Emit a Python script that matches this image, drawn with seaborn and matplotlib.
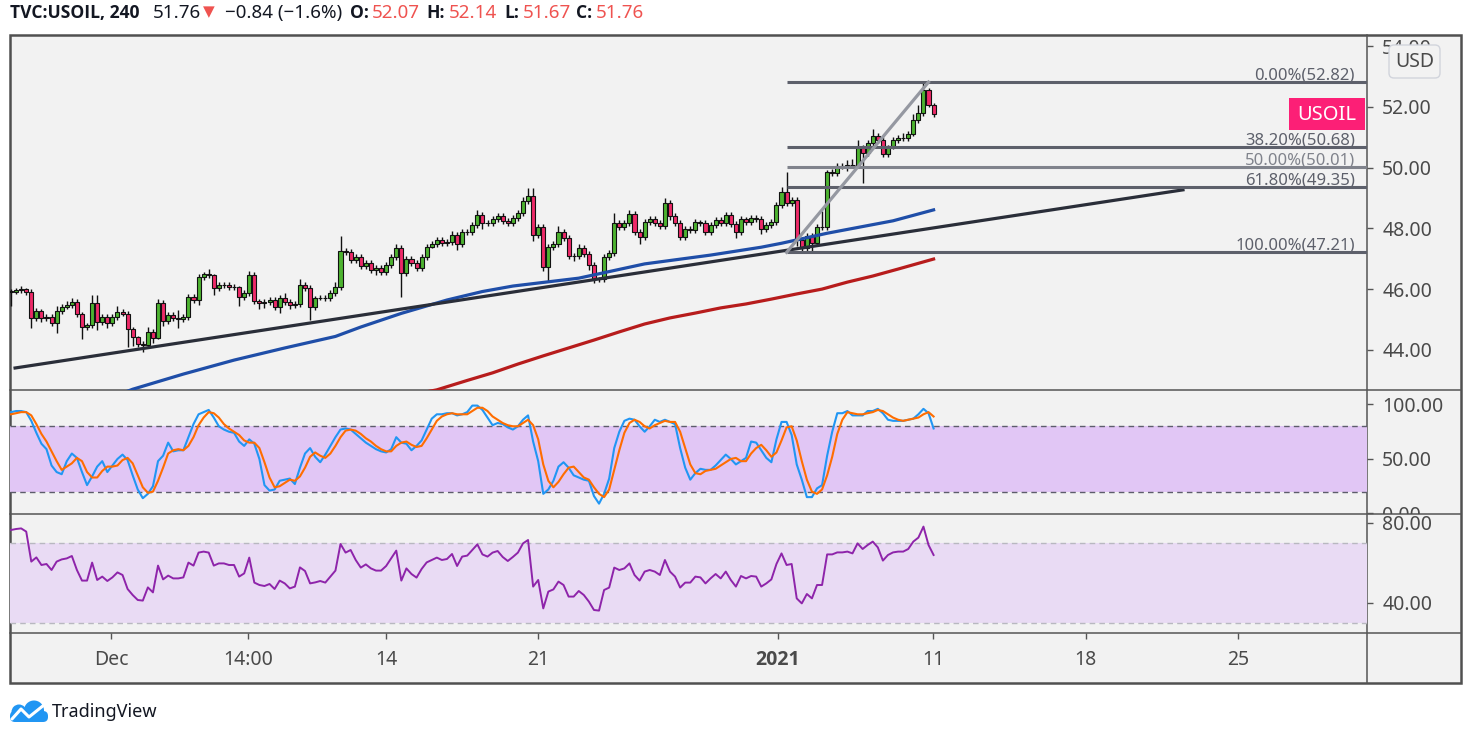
import numpy as np
import pandas as pd
import seaborn as sns
import matplotlib.pyplot as plt
from matplotlib import font_manager
from matplotlib.patches import Rectangle, FancyBboxPatch, Circle
from matplotlib.transforms import Bbox, TransformedBbox

plt.rcParams['font.family'] = ['Noto Sans', 'DejaVu Sans']

# ---- values (TVC:USOIL, 4h bars) ----
first_open = 45.95
closes = [
    45.90, 45.97, 46.00, 45.90, 45.05, 45.28, 45.05, 45.08, 44.88, 45.28,
    45.41, 45.48, 45.57, 45.18, 44.75, 44.82, 45.54, 44.92, 45.08, 44.88,
    45.08, 45.25, 45.18, 44.69, 44.42, 44.19, 44.16, 44.59, 44.39, 45.54,
    44.95, 45.15, 45.05, 45.03, 45.08, 45.74, 45.64, 46.40, 46.50, 46.46,
    46.04, 46.13, 46.12, 46.07, 46.06, 45.74, 45.87, 46.46, 45.61, 45.54,
    45.57, 45.64, 45.41, 45.71, 45.57, 45.48, 45.50, 46.13, 46.04, 45.41,
    45.71, 45.72, 45.70, 45.87, 46.07, 47.25, 47.22, 46.95, 47.05, 46.75,
    46.85, 46.63, 46.70, 46.56, 46.79, 47.06, 47.35, 46.53, 46.99, 46.86,
    46.70, 47.06, 47.39, 47.49, 47.62, 47.52, 47.55, 47.78, 47.49, 47.88,
    47.87, 48.11, 48.44, 48.18, 48.17, 48.31, 48.41, 48.24, 48.18, 48.34,
    48.51, 48.90, 49.07, 47.78, 48.05, 46.73, 47.39, 47.49, 47.88, 47.68,
    47.09, 47.10, 47.35, 47.16, 46.79, 46.33, 46.34, 47.06, 47.19, 48.18,
    48.05, 48.18, 48.47, 47.88, 47.72, 48.21, 48.31, 48.18, 48.08, 48.84,
    48.41, 48.18, 47.72, 47.98, 47.95, 48.21, 48.19, 47.88, 48.11, 48.28,
    48.18, 48.44, 48.14, 47.88, 48.31, 48.21, 48.34, 48.32, 47.98, 48.11,
    48.21, 48.77, 49.20, 48.84, 48.94, 47.62, 47.35, 47.75, 47.52, 48.05,
    48.04, 49.86, 49.83, 50.06, 50.05, 50.09, 50.10, 50.65, 50.48, 50.81,
    51.04, 50.91, 50.45, 50.71, 50.91, 50.98, 50.97, 51.11, 51.57, 51.80,
    52.56, 52.07, 51.76,
]
wick_up = [
    0.05, 0.08, 0.10, 0.05, 0.10, 0.10, 0.08, 0.10, 0.10, 0.15,
    0.10, 0.12, 0.15, 0.10, 0.08, 0.05, 0.26, 0.26, 0.10, 0.10,
    0.10, 0.20, 0.10, 0.10, 0.05, 0.05, 0.10, 0.15, 0.10, 0.13,
    0.10, 0.10, 0.10, 0.25, 0.10, 0.10, 0.10, 0.10, 0.05, 0.15,
    0.05, 0.10, 0.10, 0.10, 0.10, 0.05, 0.10, 0.15, 0.10, 0.05,
    0.10, 0.10, 0.10, 0.10, 0.15, 0.10, 0.10, 0.20, 0.10, 0.10,
    0.05, 0.10, 0.10, 0.10, 0.15, 0.50, 0.10, 0.10, 0.10, 0.10,
    0.10, 0.10, 0.10, 0.10, 0.10, 0.10, 0.15, 0.10, 0.10, 0.10,
    0.10, 0.10, 0.10, 0.10, 0.10, 0.10, 0.10, 0.15, 0.10, 0.10,
    0.10, 0.10, 0.15, 0.10, 0.10, 0.10, 0.10, 0.10, 0.10, 0.10,
    0.10, 0.15, 0.25, 0.26, 0.10, 0.10, 0.10, 0.10, 0.20, 0.10,
    0.10, 0.10, 0.15, 0.10, 0.10, 0.10, 0.05, 0.10, 0.10, 0.33,
    0.10, 0.10, 0.15, 0.10, 0.10, 0.10, 0.10, 0.10, 0.10, 0.16,
    0.10, 0.10, 0.10, 0.10, 0.10, 0.10, 0.08, 0.10, 0.10, 0.10,
    0.10, 0.10, 0.10, 0.10, 0.10, 0.08, 0.10, 0.10, 0.10, 0.10,
    0.10, 0.10, 0.15, 0.66, 0.10, 0.10, 0.10, 0.10, 0.10, 0.10,
    0.52, 0.05, 0.10, 0.10, 0.10, 0.15, 0.20, 0.25, 0.10, 0.10,
    0.25, 0.10, 0.10, 0.05, 0.10, 0.10, 0.15, 0.10, 0.20, 0.25,
    0.26, 0.07, 0.07,
]
wick_dn = [
    0.45, 0.05, 0.10, 0.08, 0.33, 0.10, 0.15, 0.10, 0.10, 0.33,
    0.10, 0.08, 0.10, 0.10, 0.40, 0.10, 0.10, 0.27, 0.10, 0.15,
    0.10, 0.10, 0.08, 0.60, 0.30, 0.10, 0.23, 0.10, 0.15, 0.05,
    0.15, 0.10, 0.10, 0.30, 0.10, 0.10, 0.10, 0.15, 0.10, 0.10,
    0.25, 0.10, 0.10, 0.10, 0.10, 0.30, 0.10, 0.10, 0.10, 0.20,
    0.15, 0.10, 0.10, 0.20, 0.10, 0.15, 0.10, 0.10, 0.10, 0.43,
    0.10, 0.08, 0.10, 0.10, 0.10, 0.10, 0.10, 0.10, 0.10, 0.10,
    0.10, 0.10, 0.15, 0.10, 0.10, 0.10, 0.10, 0.79, 0.10, 0.10,
    0.10, 0.10, 0.10, 0.05, 0.10, 0.10, 0.10, 0.10, 0.20, 0.10,
    0.10, 0.10, 0.10, 0.20, 0.10, 0.10, 0.10, 0.10, 0.10, 0.10,
    0.10, 0.10, 0.10, 0.18, 0.10, 0.15, 0.50, 0.10, 0.10, 0.10,
    0.10, 0.15, 0.10, 0.10, 0.15, 0.13, 0.10, 0.10, 0.10, 0.10,
    0.10, 0.10, 0.10, 0.10, 0.25, 0.10, 0.10, 0.10, 0.10, 0.10,
    0.15, 0.10, 0.10, 0.10, 0.10, 0.10, 0.10, 0.10, 0.10, 0.10,
    0.10, 0.10, 0.10, 0.20, 0.10, 0.10, 0.10, 0.10, 0.15, 0.10,
    0.10, 0.10, 0.10, 0.10, 0.10, 0.20, 0.14, 0.10, 0.30, 0.10,
    0.10, 0.10, 0.10, 0.10, 0.10, 0.15, 0.10, 0.10, 1.00, 0.10,
    0.10, 0.10, 0.10, 0.10, 0.10, 0.10, 0.10, 0.10, 0.05, 0.10,
    0.10, 0.08, 0.09,
]

blue_ma_bars = [19, 24, 34, 44, 54, 64, 69, 77, 86, 93, 99, 112, 125, 138, 148, 152, 161, 174, 182]
blue_ma = [42.38, 42.70, 43.20, 43.66, 44.06, 44.44, 44.75, 45.20, 45.64, 45.92, 46.10,
           46.36, 46.83, 47.12, 47.38, 47.51, 47.84, 48.25, 48.61]
red_ma_bars = [80, 84, 90, 95, 100, 105, 110, 115, 120, 125, 130, 135, 140, 145,
               150, 155, 160, 165, 170, 175, 182]
red_ma = [42.55, 42.68, 42.99, 43.24, 43.53, 43.80, 44.06, 44.32, 44.59, 44.85, 45.05,
          45.21, 45.38, 45.51, 45.67, 45.84, 46.00, 46.23, 46.43, 46.66, 46.99]

stoch_k = [
    93, 94, 94, 93, 85, 74, 64, 59, 44, 38, 36, 48, 55, 51, 38, 26, 34, 43, 48, 38,
    44, 50, 54, 49, 35, 22, 14, 18, 25, 48, 53, 65, 57, 58, 58, 70, 82, 91, 93, 95,
    88, 80, 77, 75, 74, 66, 62, 68, 64, 50, 26, 21, 22, 30, 31, 32, 27, 42, 55, 60,
    52, 47, 54, 62, 70, 77, 78, 77, 73, 69, 65, 62, 59, 57, 56, 59, 70, 65, 64, 58,
    62, 67, 77, 87, 91, 91, 92, 92, 90, 91, 93, 99, 99, 95, 88, 81, 83, 82, 79, 77,
    80, 86, 90, 66, 48, 18, 22, 30, 43, 47, 42, 35, 33, 31, 30, 16, 9, 18, 32, 60,
    75, 85, 87, 86, 80, 75, 80, 86, 84, 86, 84, 82, 60, 42, 31, 37, 41, 40, 40, 44,
    49, 54, 50, 45, 48, 51, 66, 65, 58, 51, 47, 68, 84, 84, 72, 45, 31, 15, 15, 23,
    26, 53, 75, 92, 92, 94, 90, 90, 90, 94, 94, 96, 92, 86, 85, 85, 85, 86, 87, 91,
    96, 92, 78,
]
stoch_d = [
    91, 92, 93, 93, 90, 82, 73, 66, 57, 48, 40, 43, 46, 51, 48, 38, 33, 33, 39, 43,
    43, 44, 49, 51, 46, 35, 24, 19, 20, 30, 42, 55, 58, 59, 58, 62, 70, 81, 88, 93,
    92, 88, 82, 78, 75, 72, 67, 65, 65, 60, 47, 33, 24, 25, 28, 31, 30, 34, 42, 52,
    56, 53, 51, 55, 62, 70, 76, 77, 76, 73, 69, 66, 62, 59, 57, 57, 62, 65, 66, 63,
    61, 62, 69, 77, 85, 89, 91, 92, 91, 91, 91, 94, 97, 97, 94, 89, 86, 83, 81, 80,
    80, 83, 86, 81, 68, 45, 30, 24, 29, 36, 42, 43, 38, 33, 31, 24, 18, 15, 22, 40,
    58, 74, 83, 86, 84, 80, 78, 81, 83, 85, 84, 84, 75, 60, 45, 37, 36, 39, 40, 41,
    44, 47, 50, 51, 48, 48, 55, 60, 63, 58, 52, 56, 67, 79, 80, 67, 48, 31, 20, 18,
    22, 35, 52, 73, 86, 93, 92, 91, 91, 92, 93, 95, 94, 91, 88, 86, 85, 86, 87, 88,
    91, 93, 89,
]
rsi = [
    76.5, 77.0, 77.3, 75.7, 60.7, 62.8, 59.0, 59.5, 56.5, 60.7,
    61.8, 62.3, 63.5, 56.5, 51.2, 51.2, 60.2, 51.5, 53.2, 51.0,
    52.8, 55.3, 54.0, 47.0, 44.0, 41.5, 41.2, 47.8, 45.3, 58.7,
    51.8, 53.7, 52.3, 52.3, 52.8, 60.2, 58.7, 65.2, 65.7, 65.2,
    58.7, 59.8, 59.8, 59.0, 59.0, 53.2, 54.8, 62.7, 50.2, 49.0,
    48.5, 49.5, 47.0, 51.2, 49.8, 47.3, 48.2, 57.8, 56.0, 49.8,
    50.3, 51.0, 50.2, 53.2, 56.2, 69.5, 65.2, 66.5, 61.5, 57.7,
    59.3, 57.3, 56.2, 56.2, 58.5, 62.3, 66.2, 51.2, 57.3, 54.5,
    52.7, 57.0, 60.3, 61.5, 62.7, 61.5, 62.0, 64.5, 58.5, 63.2,
    63.7, 66.5, 69.3, 64.3, 63.2, 65.2, 66.0, 63.0, 61.0, 63.0,
    65.2, 69.8, 71.5, 48.2, 51.5, 37.3, 45.7, 46.8, 50.7, 49.0,
    43.2, 43.2, 46.0, 44.0, 40.7, 36.5, 36.2, 46.5, 47.7, 57.7,
    56.5, 57.3, 59.8, 54.0, 51.2, 55.7, 56.5, 55.7, 54.0, 61.5,
    55.7, 53.2, 47.7, 50.2, 50.2, 53.2, 52.8, 49.8, 52.3, 54.5,
    52.3, 55.7, 51.5, 48.2, 53.5, 52.3, 53.5, 53.2, 48.2, 49.8,
    51.8, 59.5, 64.8, 59.0, 59.5, 42.3, 39.8, 44.5, 42.3, 49.0,
    49.0, 64.3, 64.3, 65.3, 65.3, 65.7, 64.8, 69.8, 67.0, 69.0,
    70.7, 67.8, 61.2, 64.0, 65.3, 65.7, 65.7, 67.0, 70.7, 72.7,
    78.2, 69.0, 64.0,
]

fib_levels = [52.82, 50.68, 50.01, 49.35, 47.21]
fib_text = ['0.00%(52.82)', '38.20%(50.68)', '50.00%(50.01)', '61.80%(49.35)', '100.00%(47.21)']
fib_start = 153
trend_bars = [0.8, 231.2]
trend_prices = [43.40, 49.27]
swing_bars = [153, 181]
swing_prices = [47.21, 52.82]
date_ticks = [19.7, 46.7, 74.0, 103.9, 151.3, 181.9, 212.0, 242.0]
date_labels = ['Dec', '14:00', '14', '21', '2021', '11', '18', '25']

header = [('TVC:USOIL, 240', 10, 'bold', '#131722'), ('51.76', 153, 'normal', '#131722'),
          ('\u25bc', 203, 'normal', '#ef5350'), ('\u22120.84 (\u22121.6%)', 225, 'normal', '#131722'),
          ('O:', 350, 'bold', '#131722'), ('52.07', 372, 'normal', '#ef5350'),
          ('H:', 426, 'bold', '#131722'), ('52.14', 449, 'normal', '#ef5350'),
          ('L:', 504, 'bold', '#131722'), ('51.67', 523, 'normal', '#ef5350'),
          ('C:', 576, 'bold', '#131722'), ('51.76', 596, 'normal', '#ef5350')]

W, H = 1471, 739
LINE = '#555555'
TXT = '#4a4a4a'
XLIM = (-0.2, 267.5)


# pick a family that really has a bold face installed
def bold_family():
    for fam in ['Noto Sans', 'Open Sans', 'Lato', 'Roboto', 'Liberation Sans']:
        try:
            path = font_manager.findfont(font_manager.FontProperties(family=fam, weight='bold'),
                                         fallback_to_default=False)
        except ValueError:
            continue
        if 'bold' in path.lower():
            return [fam, 'DejaVu Sans']
    return ['DejaVu Sans']


BOLD = bold_family()

df = pd.DataFrame({'close': closes})
df['bar'] = np.arange(len(df))
df['open'] = [first_open] + closes[:-1]
df['high'] = df[['open', 'close']].max(axis=1) + np.array(wick_up)
df['low'] = df[['open', 'close']].min(axis=1) - np.array(wick_dn)

fig = plt.figure(figsize=(W / 100, H / 100), dpi=100)
fig.patch.set_facecolor('white')

# background, frame and pane separators (pixel coordinates)
bg = fig.add_axes([0, 0, 1, 1], zorder=0)
bg.set_xlim(0, W)
bg.set_ylim(H, 0)
bg.axis('off')
bg.add_patch(Rectangle((10, 35), 1451, 648, facecolor='#f2f2f2', edgecolor='#505050', lw=1.8))
for yy in (390, 514, 633):
    bg.plot([10, 1461], [yy, yy], color=LINE, lw=1.1)
bg.plot([1367, 1367], [35, 683], color=LINE, lw=1.1)


def make_panel(top, bottom, ylim, ticks):
    ax = fig.add_axes([10 / W, 1 - bottom / H, 1357 / W, (bottom - top) / H], zorder=2)
    ax.set_facecolor('none')
    for s in ax.spines.values():
        s.set_visible(False)
    ax.set_xlim(*XLIM)
    ax.set_ylim(*ylim)
    ax.set_xticks([])
    ax.yaxis.tick_right()
    ax.set_yticks(ticks)
    ax.set_yticklabels(['%.2f' % t for t in ticks])
    ax.tick_params(axis='y', length=4, width=1, color=LINE, labelsize=14, labelcolor=TXT, pad=7)
    clip = TransformedBbox(Bbox([[1367 / W, 1 - bottom / H], [1461 / W, 1 - (top + 1) / H]]),
                           fig.transFigure)
    for t in ax.yaxis.get_major_ticks():
        t.label2.set_clip_box(clip)
    return ax


# ---- price pane ----
ax_p = make_panel(35, 390, (42.675, 54.372), [44, 46, 48, 50, 52, 54])
up = df['close'] >= df['open']
ax_p.vlines(df['bar'], df['low'], df['high'], color='#111111', lw=1.0, zorder=3)
ax_p.bar(df['bar'], df['close'] - df['open'], bottom=df['open'], width=0.8,
         color=np.where(up, '#4db330', '#ee2a68'), edgecolor='#111111', linewidth=0.8, zorder=4)
sns.lineplot(x=red_ma_bars, y=red_ma, ax=ax_p, color='#b71c1c', linewidth=2.3, zorder=5)
sns.lineplot(x=blue_ma_bars, y=blue_ma, ax=ax_p, color='#1f4ea8', linewidth=2.3, zorder=5)
sns.lineplot(x=trend_bars, y=trend_prices, ax=ax_p, color='#2a2e39', linewidth=2.3, zorder=6)
for lvl, txt in zip(fib_levels, fib_text):
    col = '#80838c' if txt.startswith('50') else '#5d606b'
    ax_p.hlines(lvl, fib_start, XLIM[1], color=col, lw=2.2, zorder=6)
    ax_p.annotate(txt, (265.1, lvl), xytext=(0, -1), textcoords='offset points',
                  ha='right', va='bottom', fontsize=12, color=col, zorder=7)
sns.lineplot(x=swing_bars, y=swing_prices, ax=ax_p, color='#9598a1', linewidth=2.3, zorder=7)
ax_p.set_xlabel('')
ax_p.set_ylabel('')

# ---- stochastic pane ----
ax_s = make_panel(390, 514, (-0.5, 113.3), [0, 50, 100])
ax_s.axhspan(20, 80, color='#e1c6f5', lw=0, zorder=0)
for lvl in (20, 80):
    ax_s.axhline(lvl, color='#5d5d6b', lw=1, ls=(0, (4, 3)), zorder=1)
sns.lineplot(x=df['bar'], y=stoch_k, ax=ax_s, color='#2196f3', linewidth=1.5, zorder=3)
sns.lineplot(x=df['bar'], y=stoch_d, ax=ax_s, color='#ff6d00', linewidth=1.5, zorder=4)
ax_s.set_xlabel('')
ax_s.set_ylabel('')

# ---- RSI pane ----
ax_r = make_panel(514, 633, (25, 84.5), [40, 80])
ax_r.axhspan(30, 70, color='#e9dbf4', lw=0, zorder=0)
for lvl in (30, 70):
    ax_r.axhline(lvl, color='#b8b8c0', lw=1, ls=(0, (4, 3)), zorder=1)
sns.lineplot(x=df['bar'], y=rsi, ax=ax_r, color='#8e24aa', linewidth=1.4, zorder=3)
ax_r.set_xlabel('')
ax_r.set_ylabel('')

# ---- time axis ----
ax_x = fig.add_axes([10 / W, 1 - 683 / H, 1357 / W, 50 / H], zorder=2)
ax_x.set_facecolor('none')
for s in ax_x.spines.values():
    s.set_visible(False)
ax_x.set_xlim(*XLIM)
ax_x.set_ylim(0, 1)
ax_x.set_yticks([])
ax_x.set_xticks(date_ticks)
ax_x.tick_params(axis='x', top=True, bottom=False, labeltop=False, labelbottom=False,
                 direction='in', length=4, width=1, color=LINE)
for x, lab in zip(date_ticks, date_labels):
    if lab == '2021':
        ax_x.text(x, 0.46, lab, ha='center', va='center', fontsize=14, color=TXT,
                  family=BOLD, fontweight='bold')
    else:
        ax_x.text(x, 0.46, lab, ha='center', va='center', fontsize=14, color=TXT)

# ---- overlay: header, tags, logo ----
ov = fig.add_axes([0, 0, 1, 1], zorder=10)
ov.set_xlim(0, W)
ov.set_ylim(H, 0)
ov.axis('off')
for txt, x, wt, col in header:
    if wt == 'bold':
        ov.text(x, 13, txt, ha='left', va='center', fontsize=12.6, fontweight='bold',
                family=BOLD, color=col)
    else:
        size = 11 if txt == '\u25bc' else 13.5
        ov.text(x, 13, txt, ha='left', va='center', fontsize=size, color=col)

ov.add_patch(Rectangle((1289, 98), 76, 32, facecolor='#fc1f76', edgecolor='none'))
ov.text(1327, 114.5, 'USOIL', ha='center', va='center', fontsize=14.5, color='white')
ov.add_patch(FancyBboxPatch((1389, 45), 51, 33, boxstyle='round,pad=0,rounding_size=5',
                            facecolor='#f2f2f2', edgecolor='#d1d4dc', lw=1))
ov.text(1414.5, 62, 'USD', ha='center', va='center', fontsize=14, color=TXT)

# TradingView logo
blue = '#2196f3'
ov.add_patch(FancyBboxPatch((10, 711), 38, 11, boxstyle='round,pad=0,rounding_size=5',
                            facecolor=blue, edgecolor='none'))
ov.add_patch(Circle((19, 712), 7.5, facecolor=blue, edgecolor='none'))
ov.add_patch(Circle((34, 710.5), 10, facecolor=blue, edgecolor='none'))
ov.plot([12, 21, 29, 44], [719, 709, 717, 705], color='white', lw=2.2, solid_capstyle='round')
ov.text(52, 712, 'TradingView', ha='left', va='center', fontsize=13, color='#131722')

fig.savefig('out.png', dpi=100)
